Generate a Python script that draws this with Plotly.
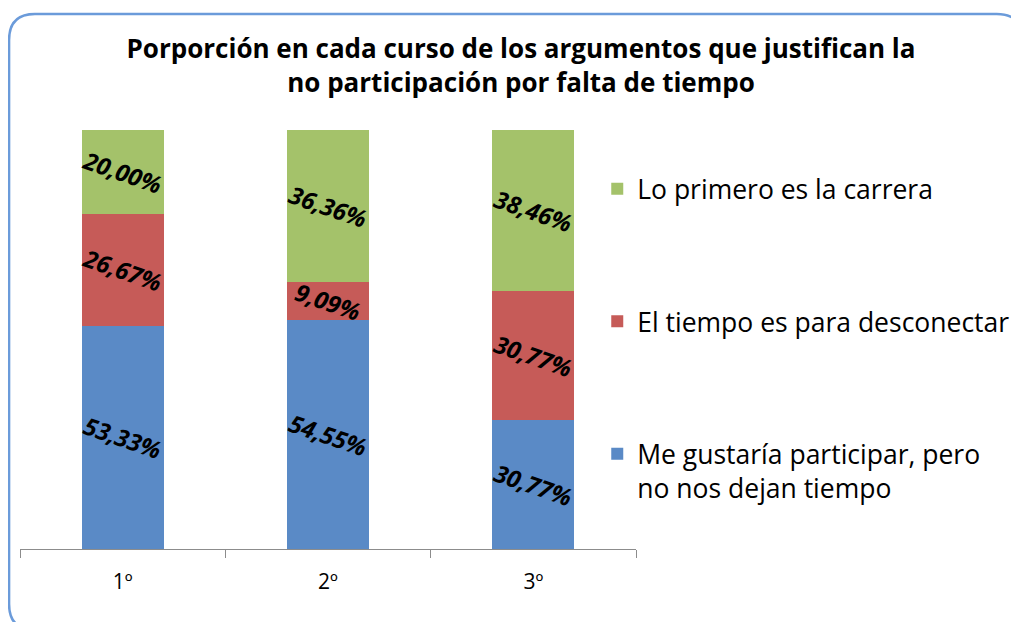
import plotly.graph_objects as go

cursos = ["1º", "2º", "3º"]
no_dejan = [53.33, 54.55, 30.77]
desconectar = [26.67, 9.09, 30.77]
carrera = [20.00, 36.36, 38.46]

series = [
    ("Me gustaría participar, pero<br>no nos dejan tiempo", no_dejan, "#5A8AC6"),
    ("El tiempo es para desconectar", desconectar, "#C65B58"),
    ("Lo primero es la carrera", carrera, "#A4C26A"),
]

W, H = 1019, 622
OFF = 8  # page body margin
L, R, T, B = 20 - OFF, 640 - OFF, 130 - OFF, 549 - OFF  # plot area in figure pixels
FONT = "Open Sans"


def px(x):
    return (x - OFF - L) / (R - L)


def py(y):
    return (B - (y - OFF)) / (B - T)


fig = go.Figure()
for i, (name, vals, col) in enumerate(series):
    fig.add_trace(go.Bar(
        x=cursos, y=vals, name=name, marker_color=col,
        marker_line_width=0, legendgroup=str(i), legendrank=3 - i,
        text=[f"{v:.2f}%".replace(".", ",") for v in vals],
        textposition="inside", insidetextanchor="middle",
        textangle=19, constraintext="none",
        textfont=dict(family=FONT, size=24, color="black",
                      weight="bold", style="italic"),
    ))

# rounded outer border (screen pixel coords)
x0, y0, x1, y1, r = 9, 14, 1029, 630, 26
path = (f"M {px(x0)},{py(y0 + r)} Q {px(x0)},{py(y0)} {px(x0 + r)},{py(y0)} "
        f"L {px(x1 - r)},{py(y0)} Q {px(x1)},{py(y0)} {px(x1)},{py(y0 + r)} "
        f"L {px(x1)},{py(y1 - r)} Q {px(x1)},{py(y1)} {px(x1 - r)},{py(y1)} "
        f"L {px(x0 + r)},{py(y1)} Q {px(x0)},{py(y1)} {px(x0)},{py(y1 - r)} Z")

fig.update_layout(
    width=W, height=H,
    margin=dict(l=L, r=W - R, t=T, b=H - B),
    barmode="stack", bargap=0.6,
    paper_bgcolor="white", plot_bgcolor="white",
    font=dict(family=FONT, color="black"),
    title=dict(
        text="<b>Porporción en cada curso de los argumentos que justifican la<br>no participación por falta de tiempo</b>",
        x=(521 - OFF) / W, xref="container", xanchor="center",
        y=1 - (58 - OFF) / H, yref="container", yanchor="middle",
        font=dict(size=26, color="black"),
    ),
    xaxis=dict(showline=True, linecolor="#8c8c8c", linewidth=1,
               ticks="outside", tickson="boundaries", ticklen=8,
               tickcolor="#8c8c8c", tickfont=dict(size=21),
               ticklabelstandoff=14, showgrid=False),
    yaxis=dict(range=[0, 100], visible=False),
    legend=dict(x=px(601), xanchor="left", y=py(165), yanchor="top",
                traceorder="grouped", tracegroupgap=95,
                valign="top", font=dict(size=26.5)),
    shapes=[dict(type="path", xref="paper", yref="paper", path=path,
                 line=dict(color="#6B9BDA", width=2.5), layer="above")],
)

fig.write_html("out.html")
